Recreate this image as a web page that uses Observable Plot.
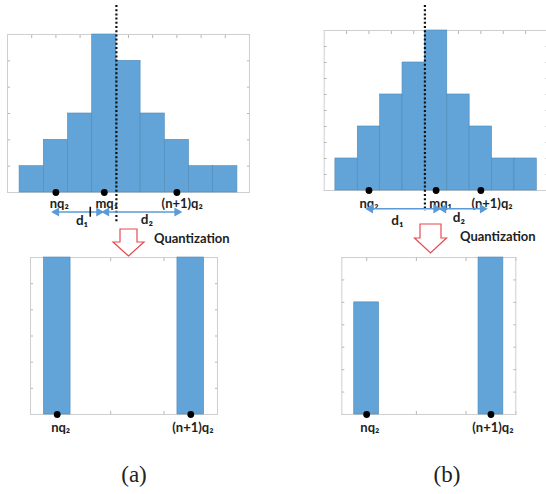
<!DOCTYPE html>
<html><head><meta charset="utf-8">
<script src="https://cdn.jsdelivr.net/npm/d3@7"></script>
<script src="https://cdn.jsdelivr.net/npm/@observablehq/plot@0.6"></script>
<style>
html,body{margin:0;padding:0;background:#fff;overflow:hidden}
#fig{position:relative;width:546px;height:494px;overflow:hidden;background:#fff}
#fig > svg{position:absolute;overflow:visible}
</style></head><body><div id="fig"></div>
<script>
// ---------- data ----------
const histA = [1, 2, 3, 6, 5, 3, 2, 1, 1];          // panel (a) top, bin counts
const histB = [1, 2, 3, 4, 5, 3, 2, 1, 1];          // panel (b) top, bin counts
const quantA = [6, 6];                               // panel (a) bottom, after quantization
const quantB = [5, 7];                               // panel (b) bottom, after quantization
const quantBinStart = [1, 6];                        // bins of nq2 and (n+1)q2
const pointNames = ["nq₂", "mq₁", "(n+1)q₂"];
const pointsA = [1.5, 3.5, 6.5];
const pointsB = [1.5, 4.5, 6.5];
const labelXA = [1.64, 3.6, 6.72];
const labelXB = [1.5, 4.7, 7.0];
const thresholdA = 4, thresholdB = 4;
const distNames = ["d₁", "d₂"];
const distA = [[1.4, 3.4], [3.47, 6.63]];
const distB = [[1.43, 4.63], [4.7, 6.71]];
const distLabelXA = [2.58, 5.26];
const distLabelXB = [2.77, 5.52];
const tickMarkA = 2.92;
const quantNames = ["nq₂", "(n+1)q₂"];
const quantPoints = [1.5, 6.5];
const quantLabelX = [1.63, 6.58];
const captions = ["(a)", "(b)"];
const arrowText = "Quantization";

// ---------- styles ----------
const BAR = "#62a4d8", EDGE = "#4d89b8", FRAME = "#cfcfcf", TICK = "#b5b5b5";
const BLUE = "#5b9bd5", RED = "#e84a50";
const FONT = "Lato, 'Open Sans', sans-serif";
const fig = document.getElementById("fig");

function place(svg, left, top) {
  svg.style.left = left + "px"; svg.style.top = top + "px";
  fig.appendChild(svg);
}
function frameMarks(xTicks, yTicks) {
  const o = {tickSize: -3, tickFormat: () => "", label: null, stroke: TICK};
  return [
    Plot.axisX(xTicks, {anchor: "bottom", ...o}),
    Plot.axisX(xTicks, {anchor: "top", ...o}),
    Plot.axisY(yTicks, {anchor: "left", ...o}),
    Plot.axisY(yTicks, {anchor: "right", ...o}),
    Plot.frame({stroke: FRAME})
  ];
}
function heads(pairs, dy) {
  const right = pairs.map(([a, b]) => ({x: b}));
  const left = pairs.map(([a, b]) => ({x: a}));
  return [
    Plot.link(pairs, {x1: d => d[0], x2: d => d[1], y1: 0, y2: 0, dy, stroke: BLUE, strokeWidth: 1.6}),
    Plot.dot(right, {x: "x", y: 0, dy, dx: -3, symbol: "triangle", rotate: 90, r: 3.4, fill: BLUE}),
    Plot.dot(left, {x: "x", y: 0, dy, dx: 3, symbol: "triangle", rotate: -90, r: 3.4, fill: BLUE})
  ];
}
const txt = {fontFamily: FONT, fontSize: 13, fontWeight: "bold", fill: "#1e1e1e"};

function topPanel({hist, points, labelX, threshold, dist, distLabelX, yMax, yStep, m, w, h, lab, extra}) {
  const bins = hist.map((c, i) => ({x1: i, x2: i + 1, y: c}));
  const labels = pointNames.map((n, i) => ({name: n, x: labelX[i]}));
  const dl = distNames.map((n, i) => ({name: n, x: distLabelX[i], dy: lab.d[i]}));
  return Plot.plot({
    width: w, height: h, marginLeft: m[3], marginRight: m[1], marginTop: m[0], marginBottom: m[2],
    x: {domain: [-0.5, 9.5], axis: null}, y: {domain: [0, yMax], axis: null},
    marks: [
      ...frameMarks(d3.range(0.5, 9, 1), d3.range(0, yMax + 0.01, yStep)),
      Plot.rect(bins, {x1: "x1", x2: "x2", y1: 0, y2: "y", fill: BAR, stroke: EDGE, strokeWidth: 0.6}),
      Plot.ruleX([threshold], {stroke: "#111", strokeWidth: 2.2, strokeDasharray: "2,2.2", insetTop: lab.ruleTop, insetBottom: lab.ruleBottom}),
      Plot.dot(points, {x: d => d, y: 0, r: 3.4, fill: "#000"}),
      Plot.text(labels, {x: "x", y: 0, text: "name", dy: lab.p, ...txt}),
      ...heads(dist, lab.arrow),
      ...(extra || []),
      ...dl.map(d => Plot.text([d], {x: "x", y: 0, text: "name", dy: d.dy, ...txt, fontSize: 13.5}))
    ]
  });
}

// (a) top
place(topPanel({
  hist: histA, points: pointsA, labelX: labelXA, threshold: thresholdA, dist: distA, distLabelX: distLabelXA,
  yMax: 6, yStep: 1, w: 273, h: 240, m: [34, 24, 48, 7],
  lab: {p: 11, arrow: 19.5, d: [28, 27], ruleTop: -29, ruleBottom: -30},
  extra: [Plot.ruleX([tickMarkA], {y1: -0.56, y2: -0.94, stroke: "#111", strokeWidth: 1.6})]
}), 0, 0);

// (b) top
place(topPanel({
  hist: histB, points: pointsB, labelX: labelXB, threshold: thresholdB, dist: distB, distLabelX: distLabelXB,
  yMax: 5, yStep: 0.5, w: 260, h: 240, m: [30, 12.5, 50, 23.7],
  lab: {p: 13, arrow: 18.3, d: [30, 26.7], ruleTop: -25, ruleBottom: -21}
}), 300, 0);

function bottomPanel({counts, yMax, w, h, m}) {
  const bars = counts.map((c, i) => ({x1: quantBinStart[i], x2: quantBinStart[i] + 1, y: c}));
  const labels = quantNames.map((n, i) => ({name: n, x: quantLabelX[i]}));
  return Plot.plot({
    width: w, height: h, marginLeft: m[3], marginRight: m[1], marginTop: m[0], marginBottom: m[2],
    x: {domain: [0.5, 7.5], axis: null}, y: {domain: [0, yMax], axis: null},
    marks: [
      ...frameMarks([1.5, 3.5, 5.5, 7.5], d3.range(0, yMax + 0.01, 1)),
      Plot.rect(bars, {x1: "x1", x2: "x2", y1: 0, y2: "y", fill: BAR, stroke: EDGE, strokeWidth: 0.6}),
      Plot.dot(quantPoints, {x: d => d, y: 0, r: 3.4, fill: "#000"}),
      Plot.text(labels, {x: "x", y: 0, text: "name", dy: 13, ...txt})
    ]
  });
}
place(bottomPanel({counts: quantA, yMax: 6, w: 273, h: 200, m: [12, 56, 31, 30]}), 0, 245);
place(bottomPanel({counts: quantB, yMax: 7, w: 246, h: 200, m: [12, 30.7, 31, 41.3]}), 300, 245);

// ---------- overlay: quantization arrows & captions ----------
const ov = d3.select(fig).append("svg").attr("width", 546).attr("height", 494)
  .style("left", "0px").style("top", "0px").style("pointer-events", "none");
const arrows = [
  {cx: 128.5, top: 229, neck: 242, tip: 256, shaft: 17, head: 31, tx: 154, ty: 238},
  {cx: 430.5, top: 224, neck: 238, tip: 253, shaft: 21, head: 32, tx: 460, ty: 236}
];
arrows.forEach(a => {
  const s = a.shaft / 2, hh = a.head / 2;
  ov.append("path")
    .attr("d", `M${a.cx - s},${a.top}H${a.cx + s}V${a.neck}H${a.cx + hh}L${a.cx},${a.tip}L${a.cx - hh},${a.neck}H${a.cx - s}Z`)
    .attr("fill", "#fff").attr("stroke", RED).attr("stroke-width", 1.2);
  ov.append("text").attr("x", a.tx).attr("y", a.ty).attr("dy", "0.35em")
    .attr("font-family", FONT).attr("font-weight", "bold").attr("font-size", 13).attr("fill", "#1e1e1e")
    .text(arrowText);
});
[[134, 474], [447, 474]].forEach(([x, y], i) => {
  ov.append("text").attr("x", x).attr("y", y).attr("dy", "0.35em").attr("text-anchor", "middle")
    .attr("font-family", "'Liberation Serif', 'DejaVu Serif', serif").attr("font-size", 23).attr("fill", "#222")
    .text(captions[i]);
});
</script></body></html>
